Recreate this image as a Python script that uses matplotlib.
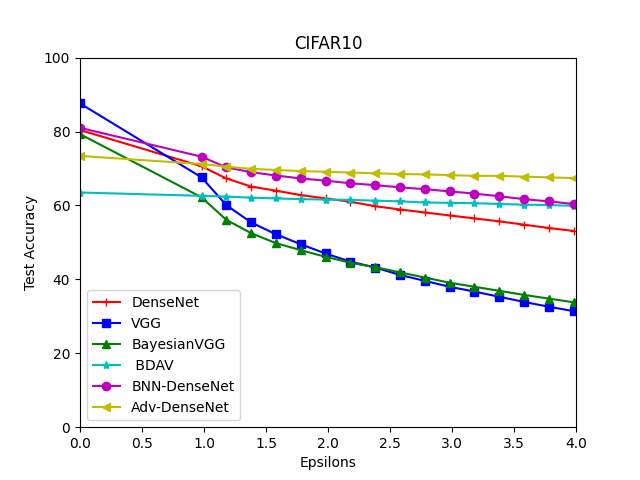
import numpy as np
from matplotlib import pyplot as plt

# epsilon values
epsilons = [0, 0.98, 1.18, 1.38, 1.58, 1.78, 1.98, 2.18, 2.38, 2.58, 2.78,
            2.98, 3.18, 3.38, 3.58, 3.78, 3.98]

densenet = [80.4, 70.6, 67.3, 65.1, 64.0, 62.8, 61.9, 61.0, 59.8, 58.9, 58.1,
            57.3, 56.5, 55.7, 54.8, 53.9, 53.1]
vgg = [87.6, 67.6, 60.1, 55.4, 52.2, 49.5, 47.0, 44.8, 43.2, 41.2, 39.6,
       38.0, 36.7, 35.3, 33.9, 32.6, 31.4]
bayesian_vgg = [79.3, 62.2, 56.1, 52.5, 49.8, 47.9, 46.1, 44.5, 43.3, 41.9, 40.5,
                39.1, 38.0, 36.9, 35.8, 34.8, 33.8]
bdav = [63.5, 62.6, 62.4, 62.1, 61.9, 61.7, 61.6, 61.5, 61.3, 61.1, 60.8,
        60.7, 60.6, 60.4, 60.2, 60.1, 59.9]
bnn_densenet = [81.0, 73.2, 70.3, 69.0, 68.1, 67.3, 66.7, 66.0, 65.5, 64.9, 64.4,
                63.8, 63.2, 62.5, 61.7, 61.1, 60.4]
adv_densenet = [73.4, 71.2, 70.5, 69.9, 69.6, 69.3, 69.1, 68.9, 68.7, 68.5, 68.4,
                68.2, 68.0, 68.0, 67.8, 67.6, 67.4]


def main():
    fig = plt.figure(figsize=(6.4, 4.8), dpi=100)
    plt.plot(epsilons, densenet, 'r+-', label='DenseNet')
    plt.plot(epsilons, vgg, 'bs-', label='VGG')
    plt.plot(epsilons, bayesian_vgg, 'g^-', label='BayesianVGG')
    plt.plot(epsilons, bdav, 'c*-', label=' BDAV')
    plt.plot(epsilons, bnn_densenet, 'mo-', label='BNN-DenseNet')
    plt.plot(epsilons, adv_densenet, 'y<-', label='Adv-DenseNet')
    plt.xlim(0, 4.0)
    plt.ylim(0, 100)
    plt.xlabel('Epsilons')
    plt.ylabel('Test Accuracy')
    plt.title('CIFAR10')
    plt.legend(loc='lower left')
    plt.savefig('out.png')


if __name__ == '__main__':
    main()
